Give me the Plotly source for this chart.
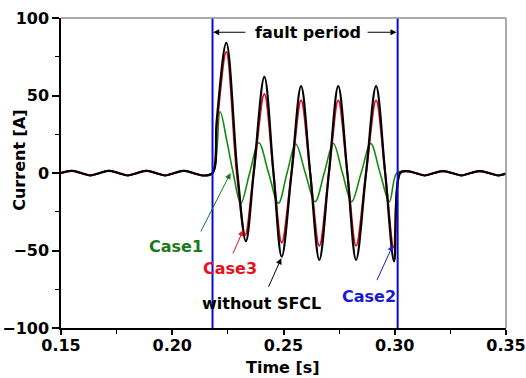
import plotly.graph_objects as go

# ---- data ----
# pre-fault normal current (common to all cases)
t_pre = [0.1500, 0.1548, 0.1590, 0.1632, 0.1674, 0.1716, 0.1758, 0.1800, 0.1842,
         0.1884, 0.1926, 0.1968, 0.2010, 0.2052, 0.2094, 0.2136, 0.2181]
i_pre = [0.0, 1.4, 0.0, -1.6, 0.0, 1.4, 0.0, -1.6, 0.0,
         1.4, 0.0, -1.6, 0.0, 1.4, 0.0, -1.6, 0.0]

# post-fault normal current
t_post = [0.3052, 0.3093, 0.3135, 0.3176, 0.3217, 0.3258, 0.3300, 0.3341, 0.3382,
          0.3423, 0.3465, 0.3500]
i_post = [1.2, 0.0, -1.6, 0.0, 1.2, 0.0, -1.6, 0.0, 1.2, 0.0, -1.6, -0.4]

# without SFCL (black)
t_nosfcl = [0.2200, 0.2243, 0.2293, 0.2331, 0.2366, 0.2414, 0.2455, 0.2492, 0.2536,
            0.2579, 0.2620, 0.2661, 0.2704, 0.2746, 0.2787, 0.2826, 0.2871, 0.2916,
            0.2957, 0.2997, 0.3024]
i_nosfcl = [34, 84, 0, -44, 0, 62, 0, -54, 0,
            56, 0, -56, 0, 56, 0, -56, 0, 56,
            0, -57, 0]

# Case3 (red)
t_case3 = [0.2200, 0.2243, 0.2290, 0.2328, 0.2366, 0.2414, 0.2455, 0.2492, 0.2536,
           0.2579, 0.2620, 0.2661, 0.2704, 0.2746, 0.2787, 0.2826, 0.2871, 0.2916,
           0.2957, 0.2995, 0.3024]
i_case3 = [30, 78, 0, -40, 0, 51, 0, -45, 0,
           47, 0, -47, 0, 47, 0, -47, 0, 47,
           0, -48, 0]

# Case1 (green)
t_case1 = [0.2215, 0.2245, 0.2274, 0.2308, 0.2348, 0.2389, 0.2433, 0.2477, 0.2516,
           0.2555, 0.2598, 0.2642, 0.2683, 0.2724, 0.2765, 0.2806, 0.2849, 0.2892,
           0.2934, 0.2976, 0.3009]
i_case1 = [39.5, 21, 0, -19.6, 0, 19.5, 0, -19.5, 0,
           18.7, 0, -18.5, 0, 19, 0, -18.5, 0, 19,
           0, -18.5, 0]

fault_times = [0.2181, 0.3013]

x_ticks = [0.15, 0.20, 0.25, 0.30, 0.35]
y_ticks = [-100, -50, 0, 50, 100]

FONT = "DejaVu Sans"

fig = go.Figure()


def add_series(t_mid, i_mid, color, width):
    fig.add_trace(go.Scatter(
        x=t_pre + t_mid + t_post, y=i_pre + i_mid + i_post,
        mode="lines", line=dict(color=color, width=width, shape="spline", smoothing=1.0),
        showlegend=False, hoverinfo="skip"))


add_series(t_case1, i_case1, "#138a13", 1.6)
add_series(t_case3, i_case3, "#e0102a", 2.0)
add_series(t_nosfcl, i_nosfcl, "#000000", 2.2)

# fault boundaries
for ft in fault_times:
    fig.add_shape(type="line", xref="x", yref="y", x0=ft, x1=ft, y0=-100, y1=100,
                  line=dict(color="#0a0ad8", width=2), layer="above")

# top / right frame (gray)
fig.add_shape(type="line", xref="paper", yref="paper", x0=0, x1=1, y0=1, y1=1,
              line=dict(color="#909090", width=1.5))
fig.add_shape(type="line", xref="paper", yref="paper", x0=1, x1=1, y0=0, y1=1,
              line=dict(color="#909090", width=1.5))

tf = dict(family=FONT, size=16, color="black", weight="bold")


def arrow(xh, yh, xt, yt, color):
    fig.add_annotation(x=xh, y=yh, ax=xt, ay=yt, xref="x", yref="y", axref="x", ayref="y",
                       text="", showarrow=True, arrowhead=2, arrowsize=1.2,
                       arrowwidth=1, arrowcolor=color)


def label(x, y, text, color):
    fig.add_annotation(x=x, y=y, xref="x", yref="y", text=text, showarrow=False,
                       font=dict(family=FONT, size=16, color=color, weight="bold"),
                       xanchor="center", yanchor="middle")


# fault period
label(0.2608, 90.8, "fault period", "black")
arrow(fault_times[0] + 0.0003, 90.8, 0.2335, 90.8, "black")
arrow(fault_times[1] - 0.0005, 90.8, 0.2871, 90.8, "black")

# case labels
label(0.2019, -47.5, "Case1", "#1a7a1a")
arrow(0.2262, 0.0, 0.2125, -38.7, "#1a7a1a")
label(0.2260, -61.5, "Case3", "#e8101e")
arrow(0.2319, -36.8, 0.2270, -52.9, "#e8101e")
label(0.2403, -84.1, "without SFCL", "black")
arrow(0.2490, -55.0, 0.2430, -74.4, "black")
label(0.2884, -79.4, "Case2", "#1a1ad0")
arrow(0.2992, -46.5, 0.2917, -70.1, "#1a1ad0")

# axis titles
fig.add_annotation(xref="paper", yref="paper", x=0.499, y=-0.126, text="Time [s]",
                   showarrow=False, font=tf, xanchor="center", yanchor="middle")
fig.add_annotation(xref="paper", yref="paper", x=-0.094, y=0.54, text="Current [A]",
                   showarrow=False, font=tf, textangle=-90, xanchor="center", yanchor="middle")

fig.update_xaxes(range=[0.15, 0.35], tickvals=x_ticks, ticktext=[f"{v:.2f}" for v in x_ticks],
                 ticks="outside", ticklen=5, tickwidth=1.5, tickcolor="black",
                 ticklabelstandoff=-3,
                 minor=dict(ticks="outside", ticklen=4, dtick=0.025, tick0=0.15,
                            tickcolor="black", tickwidth=1.2),
                 showline=True, linecolor="black", linewidth=1.5, showgrid=False,
                 zeroline=False, tickfont=tf, automargin=False)
fig.update_yaxes(range=[-100, 100], tickvals=y_ticks, ticks="outside", ticklen=7,
                 tickwidth=1.5, tickcolor="black",
                 minor=dict(ticks="outside", ticklen=4, dtick=25, tick0=0,
                            tickcolor="black", tickwidth=1.2),
                 showline=True, linecolor="black", linewidth=1.5, showgrid=False,
                 zeroline=False, tickfont=tf, automargin=False)

fig.update_layout(width=526, height=378, margin=dict(l=61, r=20, t=18, b=50),
                  plot_bgcolor="white", paper_bgcolor="white", font=tf)

fig.write_html("out.html")
